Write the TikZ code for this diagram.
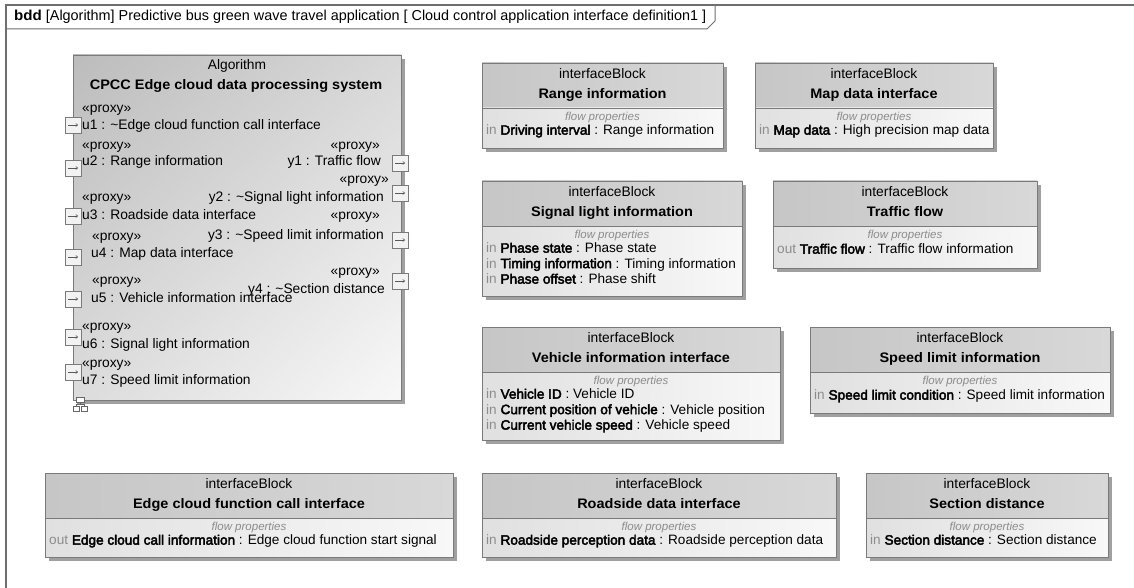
\documentclass[tikz,border=0pt]{standalone}
\usepackage{fontspec}
\setmainfont{Liberation Sans}[BoldFeatures={FakeStretch=1.05}]
\newfontfamily\propfam{Liberation Sans}[BoldFont={Liberation Sans},BoldFeatures={FakeBold=3}]
\usetikzlibrary{arrows.meta,shadings}

\definecolor{framec}{HTML}{6E6E6E}
\definecolor{bordc}{HTML}{7A7A7A}
\definecolor{shadc}{HTML}{A0A0A0}
\definecolor{hdrL}{HTML}{C6C6C6}
\definecolor{hdrR}{HTML}{D8D8D8}
\definecolor{bodL}{HTML}{E0E0E0}
\definecolor{bodR}{HTML}{F8F8F8}
\definecolor{greytxt}{HTML}{8C8C8C}

\newcommand\gr[1]{\textcolor{greytxt}{#1}}
\newcommand\basefont{\fontsize{13.8}{15.5}\selectfont}
\newcommand\propfont{\propfam\fontsize{13.6}{15.5}\selectfont}

% interface block: name, left, right, top, bottom, title
\newcommand\iblock[6]{%
  \fill[shadc] (#2+4,#4+4) rectangle (#3+4,#5+4);
  \shade[left color=hdrL,right color=hdrR] (#2,#4) rectangle (#3,#4+45);
  \shade[left color=bodL,right color=bodR] (#2,#4+45) rectangle (#3,#5);
  \draw[bordc] (#2,#4) rectangle (#3,#5);
  \draw[bordc] (#2,#4+45) -- (#3,#4+45);
  \node[txt] (#1-st) at ({(#2+#3)/2},#4+12.5) {interfaceBlock};
  \node[txt,font=\basefont\bfseries] (#1) at ({(#2+#3)/2},#4+32.5) {#6};
  \node[txt,flowp] (#1-fp) at ({(#2+#3)/2},#4+55) {flow properties};
}
% one flow property line: name, x, y, text
\newcommand\fprop[4]{\node[txt,font=\propfont,anchor=mid west] (#1) at (#2+4,#3) {#4};}

\tikzset{
  txt/.style={inner sep=0pt,anchor=mid,font=\basefont},
  flowp/.style={font=\propfam\fontsize{11.5}{13}\selectfont\itshape,text=greytxt},
  lt/.style={txt,anchor=mid west},
  rt/.style={txt,anchor=mid east},
  port/.style={draw=bordc,fill=white!90!gray,minimum size=16pt,inner sep=0pt,line width=0.8pt},
  parrow/.style={-{To[length=2.5pt,width=3.5pt]},line width=0.6pt,black!65}
}

\begin{document}
\begin{tikzpicture}[x=1pt,y=-1pt]
\useasboundingbox (0,0) rectangle (1134,588);
\fill[white] (0,0) rectangle (1134,588);

% diagram frame and its name tab
\draw[framec,line width=1.2pt] (6,588) -- (6,5) -- (1134,5);
\draw[framec,line width=1pt] (6,29) -- (707,29) -- (715,21) -- (715,5);
\node[lt,font=\fontsize{14.4}{16}\selectfont] (title) at (14,18) {\textbf{bdd} [Algorithm] Predictive bus green wave travel application [ Cloud control application interface definition1 ]};

% the algorithm block
\fill[shadc] (77,59) rectangle (405,404);
\shade[upper left=hdrL!95!black,upper right=hdrR,lower left=hdrR!90!white,lower right=bodR] (73,55) rectangle (401,400);
\draw[bordc,line width=0.9pt] (73,55) rectangle (401,400);
\node[txt] (alg-st) at (237,67) {Algorithm};
\node[txt,font=\basefont\bfseries] (alg) at (236,87) {CPCC Edge cloud data processing system};

% left ports
\foreach \n/\y in {u1/125,u2/168,u3/216,u4/257,u5/299,u6/337,u7/372}{
  \node[port] (p\n) at (73,\y) {};
  \draw[parrow] ([xshift=-5pt]p\n.center) -- ([xshift=5pt]p\n.center);
}
% right ports
\foreach \n/\y in {y1/163,y2/193,y3/240,y4/281}{
  \node[port] (p\n) at (400,\y) {};
  \draw[parrow] ([xshift=-5pt]p\n.center) -- ([xshift=5pt]p\n.center);
}

% port labels
\node[lt] (s1) at (82,110) {«proxy»};
\node[lt] (l1) at (82,127) {u1 : \textasciitilde Edge cloud function call interface};
\node[lt] (s2) at (82,147) {«proxy»};
\node[lt] (l2) at (82,163) {u2 : Range information};
\node[lt] (s3) at (82,199) {«proxy»};
\node[lt] (l3) at (82,217) {u3 : Roadside data interface};
\node[lt] (s4) at (92,238) {«proxy»};
\node[lt] (l4) at (91,255) {u4 : Map data interface};
\node[lt] (s5) at (92,282) {«proxy»};
\node[lt] (l5) at (91,300) {u5 : Vehicle information interface};
\node[lt] (s6) at (82,328) {«proxy»};
\node[lt] (l6) at (82,346) {u6 : Signal light information};
\node[lt] (s7) at (82,365) {«proxy»};
\node[lt] (l7) at (82,382) {u7 : Speed limit information};

\node[rt] (t1) at (380,147) {«proxy»};
\node[rt] (r1) at (381,163) {y1 : Traffic flow};
\node[rt] (t2) at (389,181) {«proxy»};
\node[rt] (r2) at (384,199) {y2 : \textasciitilde Signal light information};
\node[rt] (t3) at (380,217) {«proxy»};
\node[rt] (r3) at (384,237) {y3 : \textasciitilde Speed limit information};
\node[rt] (t4) at (380,273) {«proxy»};
\node[rt] (r4) at (385,291) {y4 : \textasciitilde Section distance};

% structure icon in the lower left corner
\draw[black!60,fill=white] (76,397) rectangle (84,402);
\draw[black!60] (80,402) -- (80,404) (76,404) -- (84,404) (76,404) -- (76,406) (84,404) -- (84,406);
\draw[black!60,fill=white] (73,406) rectangle (79,411);
\draw[black!60,fill=white] (81,406) rectangle (87,411);

% interface blocks
\iblock{range}{482}{723}{63}{148}{Range information}
\fprop{range-p1}{482}{132}{\gr{in} \textbf{Driving interval} : Range information}

\iblock{map}{755}{993}{63}{148}{Map data interface}
\fprop{map-p1}{755}{132}{\gr{in} \textbf{Map data} : High precision map data}

\iblock{sig}{482}{742}{181}{296}{Signal light information}
\fprop{sig-p1}{482}{250}{\gr{in} \textbf{Phase state} : Phase state}
\fprop{sig-p2}{482}{265.5}{\gr{in} \textbf{Timing information} : Timing information}
\fprop{sig-p3}{482}{281}{\gr{in} \textbf{Phase offset} : Phase shift}

\iblock{traf}{773}{1037}{181}{268}{Traffic flow}
\fprop{traf-p1}{773}{251}{\gr{out} \textbf{Traffic flow} : Traffic flow information}

\iblock{veh}{482}{780}{327}{440}{Vehicle information interface}
\fprop{veh-p1}{482}{396}{\gr{in} \textbf{Vehicle ID} : Vehicle ID}
\fprop{veh-p2}{482}{411.5}{\gr{in} \textbf{Current position of vehicle} : Vehicle position}
\fprop{veh-p3}{482}{427}{\gr{in} \textbf{Current vehicle speed} : Vehicle speed}

\iblock{spd}{810}{1110}{327}{413}{Speed limit information}
\fprop{spd-p1}{810}{397}{\gr{in} \textbf{Speed limit condition} : Speed limit information}

\iblock{edge}{45}{453}{473}{557}{Edge cloud function call interface}
\fprop{edge-p1}{45}{542}{\gr{out} \textbf{Edge cloud call information} : Edge cloud function start signal}

\iblock{road}{482}{836}{473}{557}{Roadside data interface}
\fprop{road-p1}{482}{542}{\gr{in} \textbf{Roadside perception data} : Roadside perception data}

\iblock{sec}{866}{1108}{473}{557}{Section distance}
\fprop{sec-p1}{866}{542}{\gr{in} \textbf{Section distance} : Section distance}
\end{tikzpicture}
\end{document}
